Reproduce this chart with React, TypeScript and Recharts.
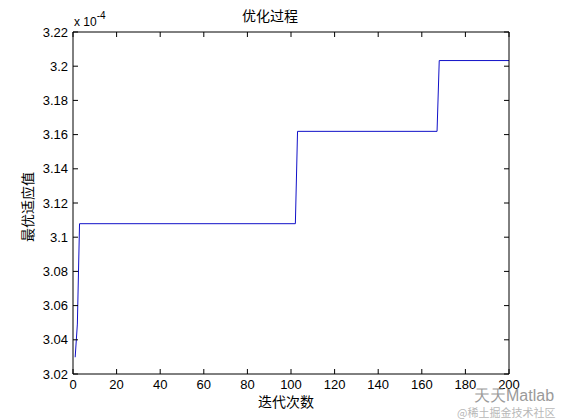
import { LineChart, Line, XAxis, YAxis } from "recharts";

// best fitness per iteration (values shown in units of 1e-4)
const iterations = [1, 2, 3, 102, 103, 167, 168, 200];
const bestFitness = [3.0298, 3.0492, 3.1079, 3.1079, 3.1619, 3.1619, 3.2033, 3.2033];

const xTicks = [0, 20, 40, 60, 80, 100, 120, 140, 160, 180, 200];
const yTicks = [3.02, 3.04, 3.06, 3.08, 3.1, 3.12, 3.14, 3.16, 3.18, 3.2, 3.22];

const data = iterations.map((it, i) => ({ iter: it, value: bestFitness[i] }));

const font = "'Liberation Sans', Arial, Helvetica, sans-serif";
const cjk = "'Noto Sans CJK SC', sans-serif";
const tickStyle = { fill: "#000", fontSize: 13, fontFamily: font };
const fmtY = (v: number) => String(Number(v.toFixed(2)));

export default function App() {
  return (
    <div style={{ position: "absolute", left: 0, top: 0, width: 561, height: 420, background: "#fff" }}>
      <LineChart
        width={561}
        height={420}
        data={data}
        margin={{ top: 31, right: 51, bottom: 16, left: 13 }}
      >
        <XAxis
          dataKey="iter"
          type="number"
          domain={[0, 200]}
          ticks={xTicks}
          interval={0}
          height={30}
          tickSize={-5}
          tickMargin={11}
          stroke="#000"
          tick={tickStyle}
          axisLine={{ stroke: "#000" }}
          tickLine={{ stroke: "#000" }}
        />
        <XAxis
          xAxisId="top"
          orientation="top"
          dataKey="iter"
          type="number"
          domain={[0, 200]}
          ticks={xTicks}
          interval={0}
          height={1}
          tickSize={-5}
          tickFormatter={() => ""}
          stroke="#000"
          axisLine={{ stroke: "#000" }}
          tickLine={{ stroke: "#000" }}
        />
        <YAxis
          type="number"
          domain={[3.02, 3.22]}
          ticks={yTicks}
          interval={0}
          width={60}
          tickSize={-5}
          tickMargin={10}
          tickFormatter={fmtY}
          stroke="#000"
          tick={tickStyle}
          allowDataOverflow
        />
        <YAxis
          yAxisId="right"
          orientation="right"
          type="number"
          domain={[3.02, 3.22]}
          ticks={yTicks}
          interval={0}
          width={1}
          tickSize={-5}
          tickFormatter={() => ""}
          stroke="#000"
          axisLine={{ stroke: "#000" }}
          tickLine={{ stroke: "#000" }}
          allowDataOverflow
        />
        <Line
          dataKey="value"
          stroke="#1010c8"
          strokeWidth={1}
          dot={false}
          isAnimationActive={false}
        />
      </LineChart>

      <div style={{ position: "absolute", left: 232, top: 5, width: 76, textAlign: "center", fontFamily: cjk, fontSize: 14, color: "#000" }}>
        优化过程
      </div>
      <div style={{ position: "absolute", left: 74, top: 12, fontFamily: font, fontSize: 12, color: "#000", whiteSpace: "nowrap" }}>
        x 10<sup style={{ fontSize: 10, position: "relative", top: -2 }}>-4</sup>
      </div>
      <div
        style={{
          position: "absolute",
          left: 27,
          top: 207,
          transform: "translate(-50%, -50%) rotate(-90deg)",
          fontFamily: cjk,
          fontSize: 14,
          color: "#000",
          whiteSpace: "nowrap",
        }}
      >
        最优适应值
      </div>
      <div style={{ position: "absolute", left: 246, top: 391, width: 80, textAlign: "center", fontFamily: cjk, fontSize: 14, color: "#000" }}>
        迭代次数
      </div>
      <div style={{ position: "absolute", left: 474, top: 386, fontFamily: font, fontSize: 16, color: "#9a9a9a", whiteSpace: "nowrap" }}>
        天天Matlab
      </div>
      <div style={{ position: "absolute", left: 457, top: 404, fontFamily: cjk, fontSize: 11, color: "#b8b8b8", whiteSpace: "nowrap" }}>
        @稀土掘金技术社区
      </div>
    </div>
  );
}
